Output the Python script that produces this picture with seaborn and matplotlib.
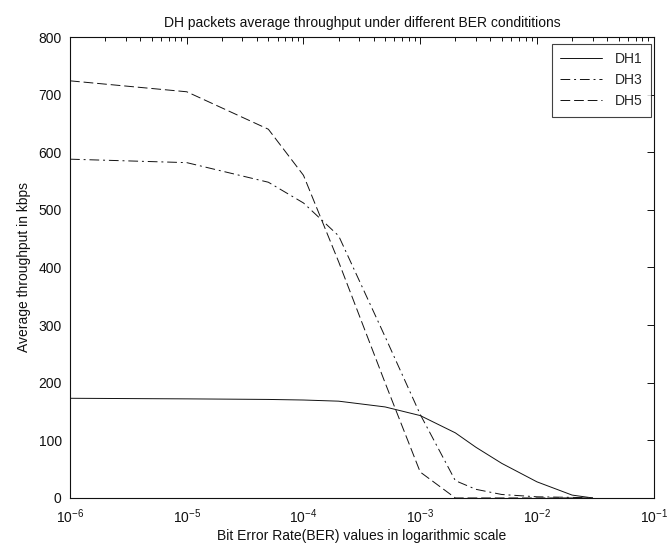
import numpy as np
import pandas as pd
import matplotlib
matplotlib.use("Agg")
import matplotlib.pyplot as plt
import seaborn as sns
from matplotlib.ticker import LogLocator, LogFormatterMathtext, NullFormatter

# ---- data ----
ber = [1e-6, 1e-5, 5e-5, 1e-4, 2e-4, 5e-4, 1e-3, 2e-3, 3e-3, 5e-3, 1e-2, 2e-2, 3e-2]
dh1 = [173, 172, 171, 170, 168, 158, 143, 113, 88, 60, 28, 5, 0]
dh3 = [588, 582, 548, 512, 455, 280, 145, 30, 15, 6, 2, 1, 0]
dh5 = [724, 705, 640, 560, 410, 200, 45, 0, 0, 0, 0, 0, 0]
series_names = ["DH1", "DH3", "DH5"]

title = "DH packets average throughput under different BER condititions"
xlabel = "Bit Error Rate(BER) values in logarithmic scale"
ylabel = "Average throughput in kbps"

df = pd.DataFrame({
    "BER": ber * 3,
    "Throughput": dh1 + dh3 + dh5,
    "Packet": [n for n in series_names for _ in ber],
})

sns.set_style("white")
plt.rcParams["font.family"] = ["Liberation Sans", "DejaVu Sans"]
plt.rcParams["mathtext.fontset"] = "custom"
plt.rcParams["mathtext.rm"] = "Liberation Sans"
plt.rcParams["mathtext.it"] = "Liberation Sans"
plt.rcParams["mathtext.default"] = "regular"

fig = plt.figure(figsize=(6.67, 5.57), dpi=100)
ax = fig.add_axes([0.105, 0.106, 0.875, 0.8275])

styles = {"DH1": "", "DH3": (10, 4, 2, 4), "DH5": (10, 4)}
sns.lineplot(data=df, x="BER", y="Throughput", hue="Packet", style="Packet",
             palette=["#111111"] * 3, dashes=styles, linewidth=0.7,
             ax=ax, legend=True)

ax.set_xscale("log")
ax.set_xlim(1e-6, 1e-1)
ax.set_ylim(0, 800)
ax.set_yticks(range(0, 801, 100))
ax.xaxis.set_major_locator(LogLocator(base=10, numticks=10))
ax.xaxis.set_major_formatter(LogFormatterMathtext())
ax.xaxis.set_minor_locator(LogLocator(base=10, subs=np.arange(2, 10), numticks=20))
ax.xaxis.set_minor_formatter(NullFormatter())

ax.tick_params(axis="both", which="both", direction="in", top=True, right=True,
               labelsize=10, colors="#111111")
ax.tick_params(which="major", length=5, width=0.7)
ax.tick_params(which="minor", length=3, width=0.7)
ax.tick_params(axis="x", which="major", pad=7)
ax.tick_params(axis="y", which="major", pad=6)
for s in ax.spines.values():
    s.set_linewidth(0.8)
    s.set_color("#111111")

ax.set_title(title, fontsize=10, pad=7, color="#111111")
ax.set_xlabel(xlabel, fontsize=10, labelpad=2, color="#111111")
ax.set_ylabel(ylabel, fontsize=10, labelpad=5, color="#111111")

handles, labels = ax.get_legend_handles_labels()
leg = ax.legend(handles, labels, loc="upper right", bbox_to_anchor=(0.995, 0.985),
                borderaxespad=0, fontsize=10, frameon=True, fancybox=False,
                edgecolor="#111111", handlelength=3.0, handletextpad=0.9,
                labelspacing=0.5, borderpad=0.6)
leg.get_frame().set_linewidth(0.8)

fig.savefig("out.png", dpi=100, facecolor="white")
